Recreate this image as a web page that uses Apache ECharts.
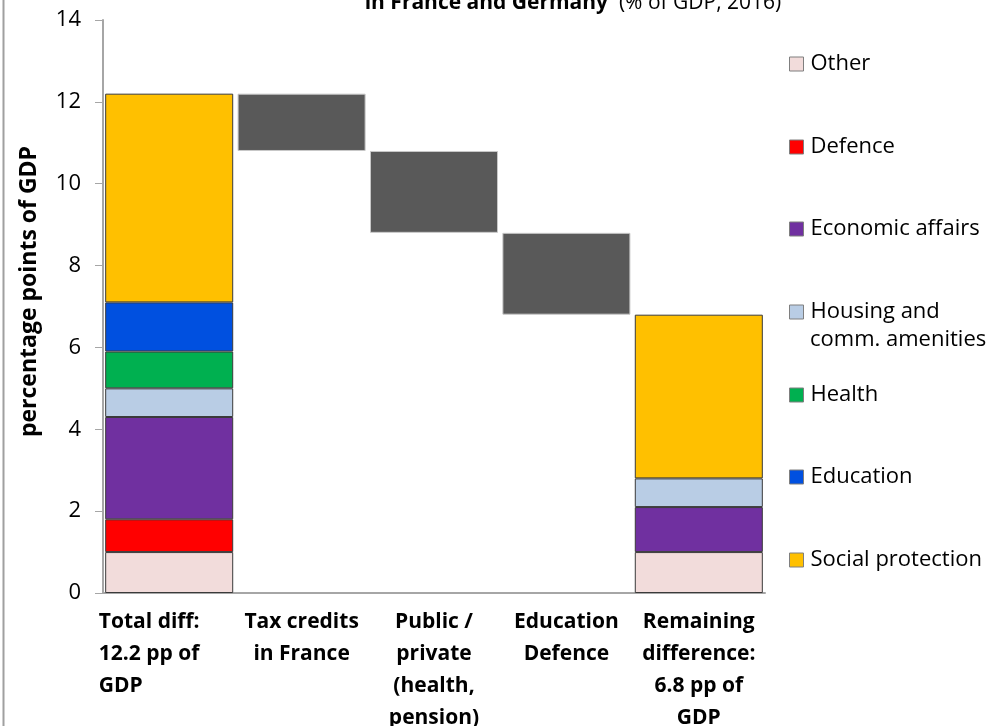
<!DOCTYPE html>
<html>
<head>
<meta charset="utf-8">
<script src="https://cdn.jsdelivr.net/npm/echarts@6/dist/echarts.min.js"></script>
<style>
  html, body { margin: 0; padding: 0; background: #fff; }
  #chart { width: 999px; height: 726px; }
</style>
</head>
<body>
<div id="chart"></div>
<script>
// Categories along the x axis
var categories = [
  'Total diff:\n12.2 pp of\nGDP',
  'Tax credits\nin France',
  'Public /\nprivate\n(health,\npension)',
  'Education\nDefence',
  'Remaining\ndifference:\n6.8 pp of\nGDP'
];

// Spending components (pp of GDP) for the two stacked columns
var otherVals     = [1.0, '-', '-', '-', 1.0];
var defenceVals   = [0.8, '-', '-', '-', '-'];
var economicVals  = [2.5, '-', '-', '-', 1.1];
var housingVals   = [0.7, '-', '-', '-', 0.7];
var healthVals    = [0.9, '-', '-', '-', '-'];
var educationVals = [1.2, '-', '-', '-', '-'];
var socialVals    = [5.1, '-', '-', '-', 4.0];

// Explained parts of the gap (pp of GDP), drawn as floating steps
var totalGap = 12.2;
var stepVals = ['-', 1.4, 2.0, 2.0, '-'];

// Y axis ticks
var yTicks = [0, 2, 4, 6, 8, 10, 12, 14];

// Invisible base under each floating step
var stepBase = [];
(function () {
  var level = totalGap;
  for (var i = 0; i < stepVals.length; i++) {
    if (stepVals[i] === '-') { stepBase.push('-'); continue; }
    level -= stepVals[i];
    stepBase.push(+level.toFixed(2));
  }
})();

var FONT = 'Open Sans';
var compBorder = { borderColor: '#3a3a3a', borderWidth: 1 };

function comp(name, data, color) {
  return {
    name: name, type: 'bar', stack: 'gap', data: data,
    barCategoryGap: '3.3%',
    itemStyle: Object.assign({ color: color }, compBorder),
    emphasis: { disabled: true }
  };
}

var legendItems = [
  { name: 'Other', y: 62 },
  { name: 'Defence', y: 145 },
  { name: 'Economic affairs', y: 227 },
  { name: 'Housing and comm. amenities', y: 310, label: 'Housing and' },
  { name: 'Health', y: 393 },
  { name: 'Education', y: 475 },
  { name: 'Social protection', y: 558 }
];

var legends = legendItems.map(function (it) {
  return {
    data: [it.name],
    left: 789,
    top: it.y - 11,
    padding: 0,
    orient: 'vertical',
    icon: 'rect',
    itemWidth: 14,
    itemHeight: 14,
    itemGap: 0,
    selectedMode: false,
    itemStyle: { borderColor: '#7f7f7f', borderWidth: 1 },
    formatter: function () { return it.label || it.name; },
    textStyle: { fontFamily: FONT, fontSize: 22, color: '#000', lineHeight: 26, padding: [0, 0, 0, 2] }
  };
});

var chart = echarts.init(document.getElementById('chart'), null, { renderer: 'canvas' });

chart.setOption({
  animation: false,
  backgroundColor: '#fff',
  title: {
    text: '{b|in France and Germany}{n|  (% of GDP, 2016)}',
    left: 573,
    textAlign: 'center',
    top: -7,
    padding: 0,
    textStyle: {
      rich: {
        b: { fontFamily: FONT, fontSize: 21, fontWeight: 'bold', color: '#000' },
        n: { fontFamily: FONT, fontSize: 21, fontWeight: 'normal', color: '#000' }
      }
    }
  },
  legend: legends,
  graphic: [
    { type: 'line', shape: { x1: 3.5, y1: 0, x2: 3.5, y2: 726 },
      style: { stroke: '#a0a0a0', lineWidth: 2 } },
    { type: 'text', left: 810, top: 329,
      style: { text: 'comm. amenities', fontFamily: FONT, fontSize: 22, fill: '#000' } }
  ],
  grid: { left: 103, right: 234, top: 20, bottom: 133, containLabel: false, outerBoundsMode: 'none' },
  xAxis: {
    type: 'category',
    data: categories,
    axisLine: { show: true, lineStyle: { color: '#a6a6a6', width: 2 } },
    axisTick: { show: false },
    axisLabel: {
      interval: 0,
      margin: 13,
      fontFamily: FONT,
      fontSize: 21,
      fontWeight: 'bold',
      color: '#000',
      lineHeight: 32,
      formatter: function (v, i) {
        return i === 0 ? '{first|' + v + '}' : v;
      },
      rich: {
        first: { align: 'left', padding: [0, 40, 0, 0], fontFamily: FONT, fontSize: 21, fontWeight: 'bold', color: '#000', lineHeight: 32 }
      }
    }
  },
  yAxis: {
    type: 'value',
    min: yTicks[0],
    max: yTicks[yTicks.length - 1],
    interval: 2,
    name: 'percentage points of GDP',
    nameLocation: 'middle',
    nameGap: 62,
    nameTextStyle: { fontFamily: FONT, fontSize: 23, fontWeight: 'bold', color: '#000', padding: [0, 0, 0, 30] },
    axisLine: { show: true, lineStyle: { color: '#a6a6a6', width: 2 } },
    axisTick: { show: true, inside: false, length: 8, lineStyle: { color: '#a6a6a6', width: 1 } },
    splitLine: { show: false },
    axisLabel: { fontFamily: FONT, fontSize: 22, color: '#000', margin: 22 }
  },
  series: [
    {
      name: 'base', type: 'bar', stack: 'gap', data: stepBase,
      barCategoryGap: '3.3%',
      itemStyle: { color: 'transparent' },
      emphasis: { disabled: true }, silent: true
    },
    {
      name: 'Explained', type: 'bar', stack: 'gap', data: stepVals,
      itemStyle: { color: '#595959', borderColor: '#c8c8c8', borderWidth: 1 },
      emphasis: { disabled: true }
    },
    comp('Other', otherVals, '#f2dcdb'),
    comp('Defence', defenceVals, '#ff0000'),
    comp('Economic affairs', economicVals, '#7030a0'),
    comp('Housing and comm. amenities', housingVals, '#b9cde5'),
    comp('Health', healthVals, '#00b050'),
    comp('Education', educationVals, '#0050e0'),
    comp('Social protection', socialVals, '#ffc000')
  ]
});
</script>
</body>
</html>
